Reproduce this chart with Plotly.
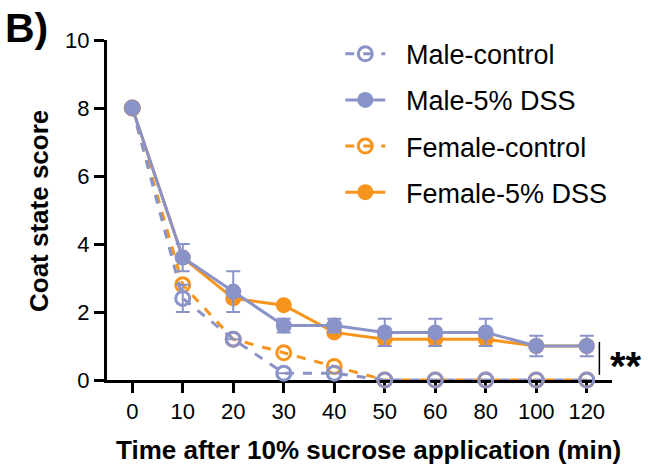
import plotly.graph_objects as go

# Time points (min) shown as evenly spaced categories
time_labels = ["0", "10", "20", "30", "40", "50", "60", "80", "100", "120"]

male_control = [8, 2.4, 1.2, 0.2, 0.2, 0, 0, 0, 0, 0]
male_control_err = [0, 0.4, 0, 0, 0, 0, 0, 0, 0, 0]

male_dss = [8, 3.6, 2.6, 1.6, 1.6, 1.4, 1.4, 1.4, 1.0, 1.0]
male_dss_err = [0, 0.4, 0.6, 0.2, 0.2, 0.4, 0.4, 0.4, 0.3, 0.3]

female_control = [8, 2.8, 1.2, 0.8, 0.4, 0, 0, 0, 0, 0]
female_dss = [8, 3.6, 2.4, 2.2, 1.4, 1.2, 1.2, 1.2, 1.0, 1.0]

BLUE = "#8A93C8"
ORANGE = "#F7941D"
FONT = "Liberation Sans, Arial, sans-serif"
PAD = "\u2002\u200a"  # small gap between legend symbol and label

xpos = list(range(len(time_labels)))

fig = go.Figure()


def add_series(name, y, color, dashed, filled, rank, err=None):
    fig.add_trace(go.Scatter(
        x=xpos, y=y, name=PAD + name, mode="lines+markers",
        legendrank=rank, legendgroup=name,
        line=dict(color=color, width=3, dash="dash" if dashed else "solid"),
        marker=dict(
            symbol="circle" if filled else "circle-open",
            size=16 if filled else 14,
            color=color,
            line=dict(color=color, width=0 if filled else 3),
        ),
        error_y=None if err is None else dict(
            type="data", array=err, visible=True,
            color=BLUE, thickness=2, width=7,
        ),
        cliponaxis=False,
    ))


add_series("Female-control", female_control, ORANGE, True, False, 3)
add_series("Male-control", male_control, BLUE, True, False, 1, male_control_err)
add_series("Female-5% DSS", female_dss, ORANGE, False, True, 4)
add_series("Male-5% DSS", male_dss, BLUE, False, True, 2, male_dss_err)

# significance bracket
fig.add_shape(type="line", xref="x", yref="y", x0=9.25, x1=9.25, y0=0.15, y1=1.12,
              line=dict(color="black", width=1.5))
fig.add_annotation(x=9.42, y=0.42, xref="x", yref="y", text="<b>**</b>",
                   showarrow=False, xanchor="left", yanchor="middle",
                   font=dict(family=FONT, size=40, color="black"))

# panel label
fig.add_annotation(x=0, y=1, xref="paper", yref="paper", text="<b>B)</b>",
                   showarrow=False, xanchor="left", yanchor="top",
                   xshift=-104, yshift=37,
                   font=dict(family=FONT, size=41, color="black"))

# axis titles
fig.add_annotation(x=0.517, y=0, xref="paper", yref="paper",
                   text="<b>Time after 10% sucrose application (min)</b>",
                   showarrow=False, xanchor="center", yanchor="top", yshift=-53,
                   font=dict(family=FONT, size=26, color="black"))
fig.add_annotation(x=0, y=0.497, xref="paper", yref="paper",
                   text="<b>Coat state score</b>", textangle=-90,
                   showarrow=False, xanchor="center", yanchor="middle", xshift=-68,
                   font=dict(family=FONT, size=26, color="black"))

fig.update_layout(
    width=648, height=467,
    margin=dict(l=107, r=36, t=40, b=87),
    paper_bgcolor="white", plot_bgcolor="white",
    font=dict(family=FONT, color="black"),
    showlegend=True,
    legend=dict(
        x=0.462, y=1.03, xanchor="left", yanchor="top",
        bgcolor="rgba(0,0,0,0)",
        font=dict(family=FONT, size=27, color="black"),
        itemwidth=40, tracegroupgap=8,
    ),
    xaxis=dict(
        range=[-0.5, 9.5], automargin=False,
        tickmode="array", tickvals=xpos, ticktext=time_labels,
        showline=True, linecolor="black", linewidth=3,
        ticks="outside", ticklen=10, tickwidth=3, tickcolor="black",
        showgrid=False, zeroline=False, layer="below traces",
        tickfont=dict(family=FONT, size=22),
    ),
    yaxis=dict(
        range=[0, 10], automargin=False,
        tickmode="array", tickvals=[0, 2, 4, 6, 8, 10],
        showline=True, linecolor="black", linewidth=3,
        ticks="outside", ticklen=10, tickwidth=3, tickcolor="black",
        showgrid=False, zeroline=False, layer="below traces",
        tickfont=dict(family=FONT, size=22),
    ),
)

fig.write_html("out.html")
